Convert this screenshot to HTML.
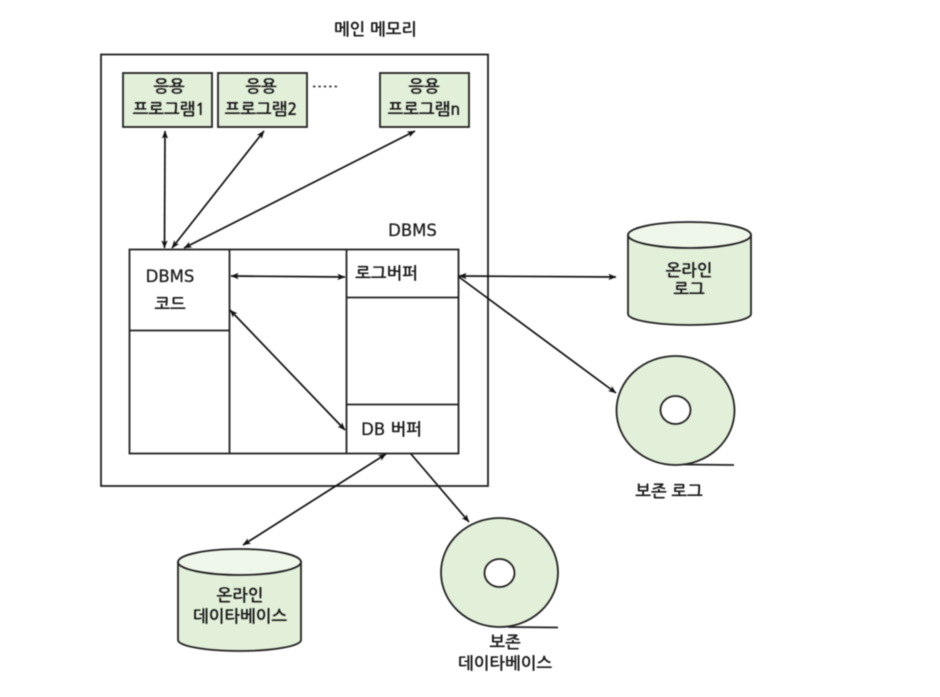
<!DOCTYPE html>
<html lang="ko">
<head>
<meta charset="utf-8">
<style>
html,body{margin:0;padding:0;background:#fff}
svg{display:block;filter:blur(.45px)}
text{font-family:"NanumGothic","Noto Sans CJK KR",sans-serif;font-size:16.7px;font-weight:700;fill:#1a1a1a;text-anchor:middle}
.l{font-family:"DejaVu Sans","NanumGothic",sans-serif;font-size:16.5px;font-weight:400;stroke:#1a1a1a;stroke-width:.25px}
.b{fill:none;stroke:#222;stroke-width:1.8}
.g{fill:#e2efd9;stroke:#222;stroke-width:1.8}
.a{fill:none;stroke:#111;stroke-width:1.7;marker-start:url(#m);marker-end:url(#m)}
.o{fill:none;stroke:#111;stroke-width:1.7;marker-end:url(#m)}
</style>
</head>
<body>
<svg width="940" height="697" viewBox="0 0 940 697" xmlns="http://www.w3.org/2000/svg">
<defs>
<marker id="m" viewBox="0 0 10 8" refX="9.500" refY="4" markerWidth="8" markerHeight="6.500" markerUnits="userSpaceOnUse" orient="auto-start-reverse">
<path d="M0 0L10 4L0 8L2.500 4Z" fill="#111"/>
</marker>
</defs>

<text x="375.500" y="35">메인 메모리</text>
<rect class="b" x="101" y="54.500" width="387" height="431.500"/>

<rect class="g" x="123" y="73" width="89" height="54"/>
<rect class="g" x="218" y="73" width="89" height="54"/>
<rect class="g" x="380" y="73" width="89" height="54"/>
<text x="169" y="92">응용</text>
<text x="169" y="115">프로그램1</text>
<text x="261" y="92">응용</text>
<text x="261" y="115">프로그램2</text>
<text x="424" y="92">응용</text>
<text x="424" y="115">프로그램n</text>
<path d="M313 86.500h26" stroke="#333" stroke-width="1.800" stroke-dasharray="2.400 3" fill="none"/>

<path class="a" d="M165 131L164.500 248"/>
<path class="a" d="M264 131L172 248"/>
<path class="a" d="M415 131L184 248"/>

<text class="l" x="412.500" y="236">DBMS</text>
<rect class="b" x="129.500" y="249.500" width="329" height="204"/>
<path class="b" d="M229.500 249.500V453.500M346.500 249.500V453.500M129.500 330.500H229.500M346.500 297.500H458.500M346.500 404.500H458.500"/>

<text class="l" x="170" y="282">DBMS</text>
<text x="170" y="310">코드</text>
<text x="386.500" y="279">로그버퍼</text>
<text class="l" x="391.500" y="435">DB <tspan style="font-family:NanumGothic,'Noto Sans CJK KR',sans-serif;font-size:16.7px;font-weight:700;stroke:none">버퍼</tspan></text>

<path class="a" d="M231 276L345 277"/>
<path class="a" d="M230 310L345 430"/>
<path class="a" d="M459 276L616 277"/>
<path class="o" d="M459 277L616 393"/>
<path class="a" d="M386 454L243 545"/>
<path class="o" d="M411 454L469 522"/>

<path class="g" d="M628 235V314A61.500 11 0 0 0 751 314V235Z"/>
<ellipse cx="689.500" cy="235" rx="61.500" ry="13" fill="#eff6ea" stroke="#222" stroke-width="1.800"/>
<text x="689" y="276">온라인</text>
<text x="689" y="295">로그</text>

<ellipse class="g" cx="675.500" cy="410.500" rx="59" ry="54.500"/>
<ellipse cx="675.500" cy="410" rx="15" ry="14" fill="#fff" stroke="#222" stroke-width="1.800"/>
<path class="b" d="M684 464.500L734 465"/>
<text x="669" y="497">보존 로그</text>

<path class="g" d="M178 562V640A61.500 11 0 0 0 301 640V562Z"/>
<ellipse cx="239.500" cy="562" rx="61.500" ry="13" fill="#eff6ea" stroke="#222" stroke-width="1.800"/>
<text x="240" y="601">온라인</text>
<text x="240" y="622">데이타베이스</text>

<ellipse class="g" cx="499.500" cy="572.500" rx="58.500" ry="54.500"/>
<ellipse cx="499.500" cy="573" rx="15" ry="14" fill="#fff" stroke="#222" stroke-width="1.800"/>
<path class="b" d="M508 627L558 627.500"/>
<text x="505" y="648">보존</text>
<text x="505" y="669">데이타베이스</text>
</svg>
</body>
</html>
